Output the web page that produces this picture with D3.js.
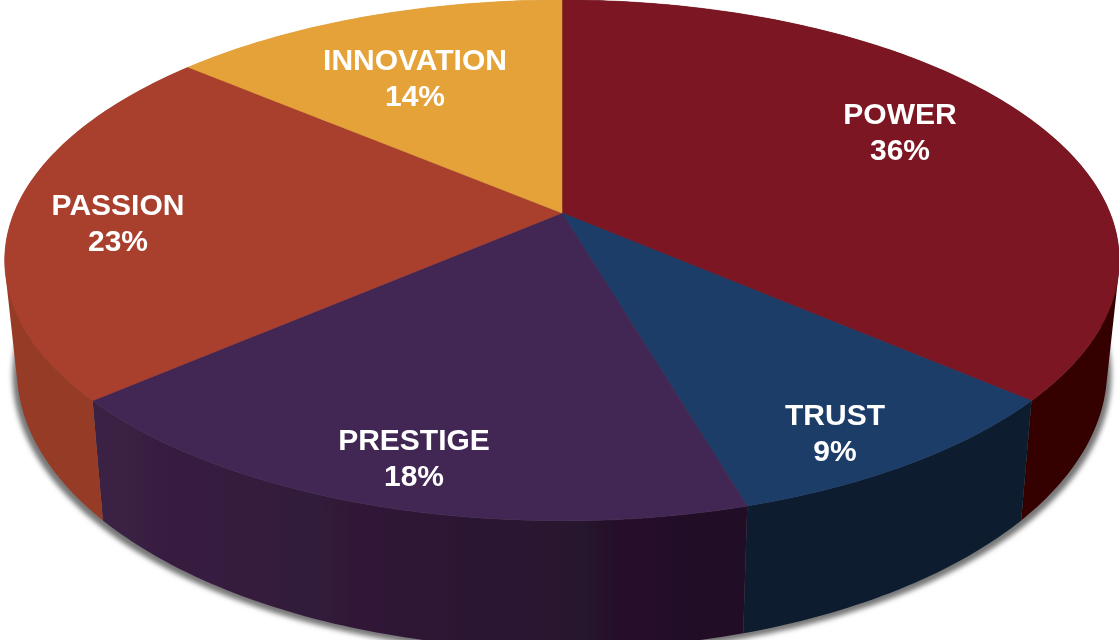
<!DOCTYPE html>
<html lang="en">
	<head>
		<meta charset="UTF-8" />
		<title>Brand Values Pie</title>
		<script src="https://d3js.org/d3.v7.min.js"></script>
		<style>
			html, body { margin: 0; padding: 0; background: #fff; }
			svg { display: block; }
			.slice-label {
				font-family: "Liberation Sans", Arial, sans-serif;
				font-size: 30px;
				font-weight: 700;
				fill: #fff;
				text-anchor: middle;
			}
		</style>
	</head>
	<body>
		<div id="chart"></div>

		<script>
			// data
			const categories = ["POWER", "TRUST", "PRESTIGE", "PASSION", "INNOVATION"];
			// slice shares, the printed labels round them
			const shares = [36.4, 9.1, 18.1, 22.6, 13.8];

			// styles
			const topColors = ["#7c1720", "#1f3c68", "#422852", "#a93f2f", "#e5a239"];
			const wallLeft = ["#360505", "#081a2d", "#3b2145", "#953a25", "#c98a30"];
			const wallRight = ["#360505", "#081a2d", "#210d25", "#953a25", "#c98a30"];

			// label centres in page pixels
			const labelX = [900, 835, 414, 118, 415];
			const labelY = [124, 425, 450, 215, 70];

			const width = 1119;
			const height = 640;
			const cx = 562;
			const persp = -0.182; // how much the near edge of the disc is enlarged

			// projects a pie angle onto a tilted disc
			function disc(rx, a, b) {
				return (angle, r = 1) => {
					const u = Math.sin(angle) * r;
					const v = -Math.cos(angle) * r;
					const d = 1 + persp * v;
					return [cx + (rx * u) / d, (a * v + b) / d];
				};
			}
			const topDisc = disc(548, 213, 213);
			const bottomDisc = disc(536, 212, 319);

			const slices = d3
				.pie()
				.sort(null)
				.value(d => d)(shares);

			const line = d3.line();

			function sliceAngles(s, perRadian) {
				const span = s.endAngle - s.startAngle;
				const n = Math.ceil(span * perRadian);
				return d3.range(n + 1).map(i => s.startAngle + (span * i) / n);
			}

			// one path of quads between both rims, all wound the same way so they fill as a union
			function wallPath(s) {
				return d3
					.pairs(sliceAngles(s, 60))
					.map(([a0, a1]) => {
						const quad = [topDisc(a0), topDisc(a1), bottomDisc(a1), bottomDisc(a0)];
						if (d3.polygonArea(quad) < 0) quad.reverse();
						return line(quad) + "Z";
					})
					.join("");
			}

			const svg = d3.select("#chart").append("svg").attr("width", width).attr("height", height);
			const defs = svg.append("defs");

			defs.append("filter").attr("id", "shadow-blur")
				.attr("x", "-5%").attr("y", "-5%").attr("width", "110%").attr("height", "110%")
				.append("feGaussianBlur").attr("stdDeviation", 2.5);
			defs.append("filter").attr("id", "soft")
				.attr("x", "-2%").attr("y", "-2%").attr("width", "104%").attr("height", "104%")
				.append("feGaussianBlur").attr("stdDeviation", 0.6);
			defs.append("filter").attr("id", "soft-text")
				.attr("x", "-2%").attr("y", "-2%").attr("width", "104%").attr("height", "104%")
				.append("feGaussianBlur").attr("stdDeviation", 0.4);

			slices.forEach((s, i) => {
				const xs = d3.extent(sliceAngles(s, 60), a => topDisc(a)[0]);
				const grad = defs.append("linearGradient")
					.attr("id", `wall-${i}`)
					.attr("gradientUnits", "userSpaceOnUse")
					.attr("x1", xs[0]).attr("x2", xs[1])
					.attr("y1", 0).attr("y2", 0);
				grad.append("stop").attr("offset", 0).attr("stop-color", wallLeft[i]);
				grad.append("stop").attr("offset", 1).attr("stop-color", wallRight[i]);
			});

			// soft grey shadow under the bottom edge
			const rim = d3.range(0, Math.PI * 2, 0.02).map(a => {
				const p = bottomDisc(a);
				return [cx + (p[0] - cx) * 1.008, p[1] + 5];
			});
			svg.append("path")
				.attr("d", line(rim) + "Z")
				.attr("fill", "#777")
				.attr("filter", "url(#shadow-blur)");

			const pie = svg.append("g").attr("filter", "url(#soft)");

			// side walls first, the top covers whatever lies behind it
			pie.selectAll(".wall")
				.data(slices)
				.enter()
				.append("path")
				.attr("class", "wall")
				.attr("d", wallPath)
				.attr("fill", (s, i) => `url(#wall-${i})`);

			pie.selectAll(".top")
				.data(slices)
				.enter()
				.append("path")
				.attr("class", "top")
				.attr("d", s => line([topDisc(0, 0)].concat(sliceAngles(s, 60).map(a => topDisc(a)))) + "Z")
				.attr("fill", (s, i) => topColors[i])
				.attr("stroke", (s, i) => topColors[i])
				.attr("stroke-width", 0.5);

			// labels
			const labels = svg.append("g").attr("filter", "url(#soft-text)");
			categories.forEach((name, i) => {
				const label = labels.append("text").attr("class", "slice-label");
				label.append("tspan").attr("x", labelX[i]).attr("y", labelY[i]).text(name);
				label.append("tspan").attr("x", labelX[i]).attr("y", labelY[i] + 36).text(`${Math.round(shares[i])}%`);
			});
		</script>
	</body>
</html>
